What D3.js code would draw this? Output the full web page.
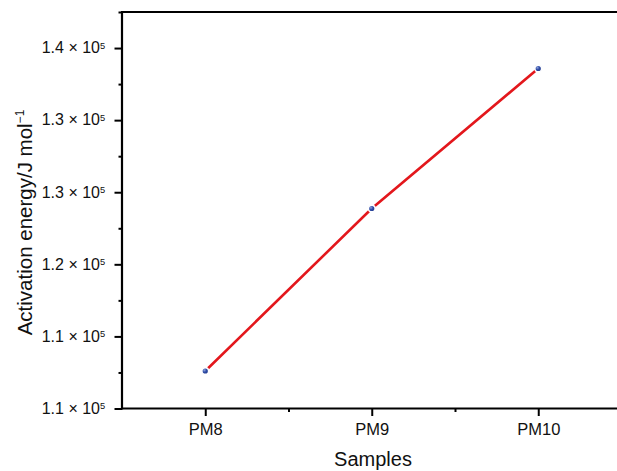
<!DOCTYPE html>
<html>
<head>
<meta charset="utf-8">
<script src="https://cdn.jsdelivr.net/npm/d3@7"></script>
<style>
  html, body { margin: 0; padding: 0; background: #fff; }
  svg { display: block; font-family: "Liberation Sans", Arial, Helvetica, sans-serif; }
</style>
</head>
<body>
<svg id="chart" width="617" height="471"></svg>
<script>
// Activation energy per sample (J/mol)
const samples = ["PM8", "PM9", "PM10"];
const activationEnergy = [112600, 123870, 133580];
// y-axis tick values and their printed mantissas
const yTickValues = [110000, 115000, 120000, 125000, 130000, 135000];
const yTickMantissas = ["1.1", "1.1", "1.2", "1.3", "1.3", "1.4"];
const yMinorValues = [112500, 117500, 122500, 127500, 132500, 137500];

const svg = d3.select("#chart");
const plot = { left: 122, right: 621.5, top: 12, bottom: 408.5 };

const x = d3.scaleLinear().domain([0.5, samples.length + 0.5]).range([plot.left, plot.right]);
const y = d3.scaleLinear().domain([110000, 137500]).range([plot.bottom, plot.top]);

// shaded fill for the sample markers
const grad = svg.append("defs").append("radialGradient")
  .attr("id", "dotFill").attr("cx", "38%").attr("cy", "38%").attr("r", "65%");
grad.append("stop").attr("offset", "0%").attr("stop-color", "#8ea3dc");
grad.append("stop").attr("offset", "45%").attr("stop-color", "#2f4ca6");
grad.append("stop").attr("offset", "100%").attr("stop-color", "#1f3688");

// top frame line
svg.append("line")
  .attr("x1", plot.left).attr("x2", 617).attr("y1", plot.top).attr("y2", plot.top)
  .attr("stroke", "#000").attr("stroke-width", 2);

function styleAxis(g) {
  g.attr("font-family", null).attr("font-size", null);
  g.select(".domain").remove();
  g.selectAll(".tick line").attr("stroke", "#000").attr("stroke-width", 2);
  g.selectAll(".tick text").attr("fill", "#111");
}

// y axis: minor ticks, major ticks with "m × 10⁵" labels
svg.append("g").attr("transform", `translate(${plot.left},0)`)
  .call(d3.axisLeft(y).tickValues(yMinorValues).tickSize(3.5).tickFormat(""))
  .call(styleAxis);
const yAxisG = svg.append("g").attr("transform", `translate(${plot.left},0)`)
  .call(d3.axisLeft(y).tickValues(yTickValues).tickSize(7.5).tickFormat(""))
  .call(styleAxis);
yAxisG.selectAll(".tick text").each(function (d, i) {
  d3.select(this).attr("x", -22).attr("dy", null).attr("y", 4.8)
    .attr("text-anchor", "end").attr("font-size", 16)
    .text(yTickMantissas[i] + " \u00d7 10");
  d3.select(this.parentNode).append("text")
    .attr("x", -22).attr("y", 0.4).attr("font-size", 9.3).attr("fill", "#111")
    .attr("text-anchor", "start").text("5");
});
svg.append("line").attr("x1", plot.left).attr("x2", plot.left)
  .attr("y1", plot.top - 1).attr("y2", plot.bottom + 1)
  .attr("stroke", "#000").attr("stroke-width", 2.2);

// x axis: minor ticks between samples, major ticks at samples
svg.append("g").attr("transform", `translate(0,${plot.bottom})`)
  .call(d3.axisBottom(x).tickValues([1.5, 2.5]).tickSize(3.5).tickFormat(""))
  .call(styleAxis);
const xAxisG = svg.append("g").attr("transform", `translate(0,${plot.bottom})`)
  .call(d3.axisBottom(x).tickValues(samples.map((s, i) => i + 1)).tickSize(7.5)
    .tickFormat((d) => samples[d - 1]))
  .call(styleAxis);
xAxisG.selectAll(".tick text").attr("dy", null).attr("y", 26.5).attr("font-size", 16.5);
svg.append("line").attr("x1", plot.left - 1).attr("x2", 617)
  .attr("y1", plot.bottom).attr("y2", plot.bottom)
  .attr("stroke", "#000").attr("stroke-width", 2.2);

// axis titles
svg.append("text").attr("x", 373).attr("y", 466)
  .attr("text-anchor", "middle").attr("font-size", 20).attr("fill", "#111").text("Samples");
const yt = svg.append("text")
  .attr("transform", "translate(31.5,222.5) rotate(-90)")
  .attr("text-anchor", "middle").attr("font-size", 20.5).attr("fill", "#111");
yt.append("tspan").text("Activation energy/J mol");
yt.append("tspan").attr("font-size", 12).attr("dy", -8).text("\u22121");

// data line and points
const pts = activationEnergy.map((v, i) => [x(i + 1), y(v)]);
svg.append("path")
  .attr("d", d3.line()(pts))
  .attr("fill", "none").attr("stroke", "#e3171c").attr("stroke-width", 2.6);
svg.selectAll("circle.pt").data(pts).join("circle")
  .attr("class", "pt")
  .attr("cx", d => d[0]).attr("cy", d => d[1]).attr("r", 3.4)
  .attr("fill", "url(#dotFill)").attr("stroke", "#fff").attr("stroke-width", 1.6);
</script>
</body>
</html>
